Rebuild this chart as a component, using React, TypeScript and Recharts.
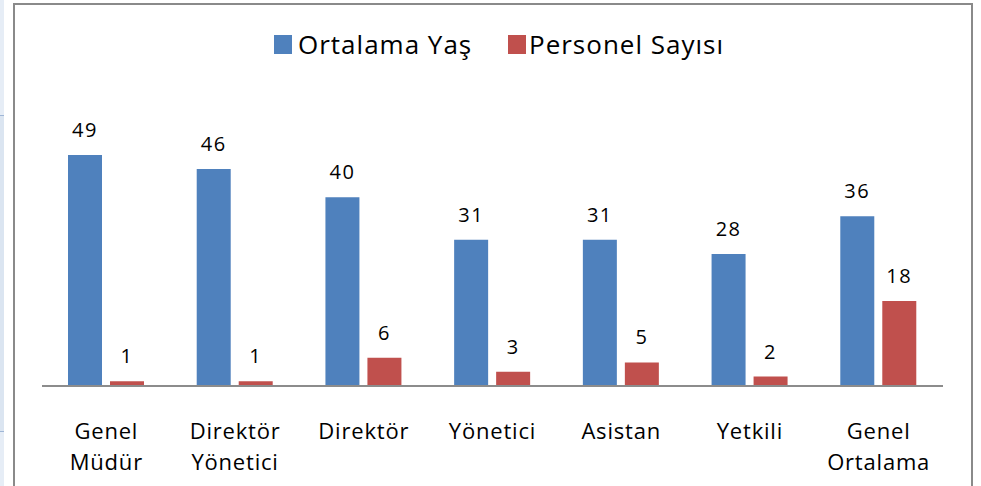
import React from "react";
import { BarChart, Bar, XAxis, YAxis, Legend, LabelList } from "recharts";

const categories = ["Genel\nMüdür", "Direktör\nYönetici", "Direktör", "Yönetici", "Asistan", "Yetkili", "Genel\nOrtalama"];
const ortalamaYas = [49, 46, 40, 31, 31, 28, 36];
const personelSayisi = [1, 1, 6, 3, 5, 2, 18];
const seriesNames = ["Ortalama Yaş", "Personel Sayısı"];
const seriesColors = ["#4F81BD", "#C0504D"];

const data = categories.map((c, i) => ({ name: c, yas: ortalamaYas[i], sayi: personelSayisi[i] }));

const FONT = "'Open Sans', sans-serif";

const CategoryTick = (props: any) => {
  const { x, y, payload } = props;
  const lines = String(payload.value).split("\n");
  return (
    <text x={x} y={y} textAnchor="middle" fontFamily={FONT} fontSize={22} letterSpacing={0.8} fill="#000">
      {lines.map((l, i) => (
        <tspan key={i} x={x} y={y + 45 + i * 31}>{l}</tspan>
      ))}
    </text>
  );
};

const LegendContent = () => (
  <div style={{ position: "relative", width: 981, height: 40, fontFamily: FONT, fontSize: 26, letterSpacing: 1, color: "#000" }}>
    <div style={{ position: "absolute", left: 274, top: 11, width: 18, height: 19, background: seriesColors[0] }} />
    <div style={{ position: "absolute", left: 298, top: 0, lineHeight: "40px", whiteSpace: "nowrap" }}>{seriesNames[0]}</div>
    <div style={{ position: "absolute", left: 508, top: 11, width: 18, height: 19, background: seriesColors[1] }} />
    <div style={{ position: "absolute", left: 529, top: 0, lineHeight: "40px", whiteSpace: "nowrap" }}>{seriesNames[1]}</div>
  </div>
);

export default function App() {
  return (
    <div style={{ position: "absolute", left: 0, top: 0, width: 981, height: 486, background: "#fff", overflow: "hidden" }}>
      <div style={{ position: "absolute", left: 0, top: 0, width: 4, height: 486, background: "#e6edf6" }} />
      <div style={{ position: "absolute", left: 0, top: 115, width: 4, height: 315, background: "#dbe5f1", borderTop: "1px solid #9fb6d6", borderBottom: "1px solid #9fb6d6" }} />
      <div style={{ position: "absolute", left: 13, top: 3, width: 956, height: 500, border: "2px solid #8a8a8a", background: "#fff" }} />
      <div style={{ position: "absolute", left: 0, top: 0 }}>
        <BarChart width={981} height={486} data={data} margin={{ top: 103, right: 38, bottom: 40, left: 42 }} barSize={34} barGap={8}>
          <XAxis dataKey="name" height={60} tick={<CategoryTick />} tickLine={false} axisLine={{ stroke: "#8c8c8c", strokeWidth: 2 }} interval={0} />
          <YAxis hide domain={[0, 60]} width={0} />
          <Legend layout="horizontal" verticalAlign="middle" align="center" wrapperStyle={{ top: 24, left: 0, width: 981 }} content={<LegendContent />} />
          <Bar dataKey="yas" name={seriesNames[0]} fill={seriesColors[0]} isAnimationActive={false}>
            <LabelList dataKey="yas" position="top" offset={18} fontFamily={FONT} fontSize={20} letterSpacing={1.5} fill="#000" />
          </Bar>
          <Bar dataKey="sayi" name={seriesNames[1]} fill={seriesColors[1]} isAnimationActive={false}>
            <LabelList dataKey="sayi" position="top" offset={18} fontFamily={FONT} fontSize={20} letterSpacing={1.5} fill="#000" />
          </Bar>
        </BarChart>
      </div>
    </div>
  );
}
